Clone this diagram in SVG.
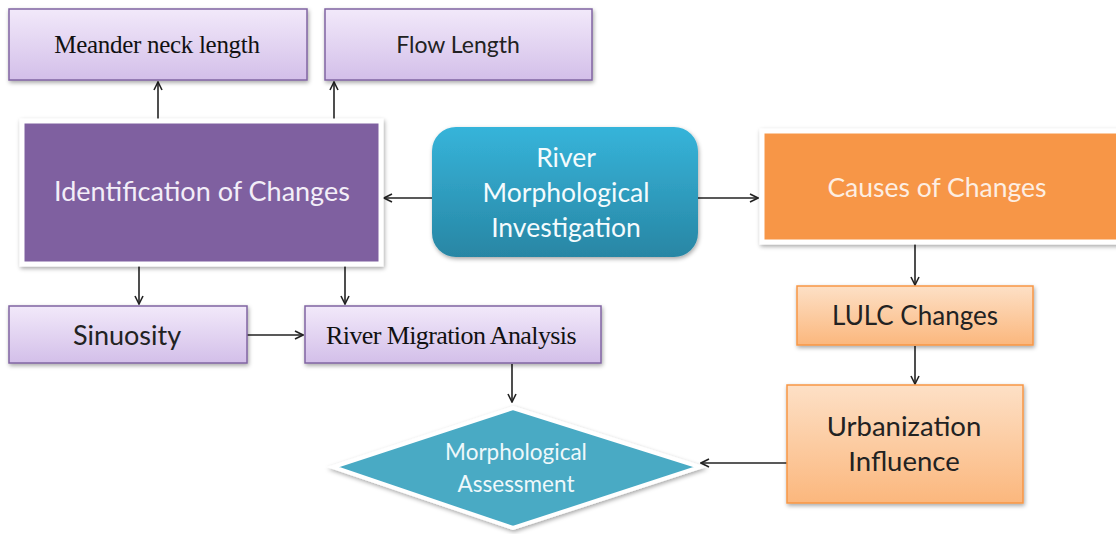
<svg xmlns="http://www.w3.org/2000/svg" width="1116" height="534" viewBox="0 0 1116 534">
<defs>
<linearGradient id="gPurple" x1="0" y1="0" x2="0" y2="1">
<stop offset="0" stop-color="#f2e9fa"/><stop offset="1" stop-color="#d3bfe9"/>
</linearGradient>
<linearGradient id="gOrange" x1="0" y1="0" x2="0" y2="1">
<stop offset="0" stop-color="#fde0c6"/><stop offset="1" stop-color="#fbb77d"/>
</linearGradient>
<linearGradient id="gTeal" x1="0" y1="0" x2="0" y2="1">
<stop offset="0" stop-color="#36b4da"/><stop offset="1" stop-color="#2886a4"/>
</linearGradient>
<filter id="sh" x="-10%" y="-10%" width="120%" height="130%">
<feDropShadow dx="1" dy="2" stdDeviation="2" flood-color="#000" flood-opacity="0.35"/>
</filter>
<marker id="arr" viewBox="0 0 10 10" refX="9" refY="5" markerWidth="10" markerHeight="10" markerUnits="userSpaceOnUse" orient="auto">
<path d="M1,1 L9,5 L1,9" fill="none" stroke="#222" stroke-width="1.6"/>
</marker>
</defs>
<style>
.lp{fill:url(#gPurple);stroke:#8064a2;stroke-width:1.5;filter:url(#sh)}
.lo{fill:url(#gOrange);stroke:#f79646;stroke-width:1.5;filter:url(#sh)}
.big{stroke:#fff;stroke-width:5;filter:url(#sh)}
.sans{font-family:Lato,"Open Sans","Liberation Sans",sans-serif;text-anchor:middle}
.serif{font-family:"Liberation Serif",serif;text-anchor:middle;fill:#111}
.dk{fill:#222}
.wt{fill:#f3eef8}
.cn{stroke:#222;stroke-width:1.6;fill:none;marker-end:url(#arr)}
</style>
<rect width="1116" height="534" fill="#fff"/>
<g id="connectors">
<line class="cn" x1="158" y1="120" x2="158" y2="82"/>
<line class="cn" x1="334" y1="120" x2="334" y2="82"/>
<line class="cn" x1="432" y1="198" x2="384" y2="198"/>
<line class="cn" x1="698" y1="198" x2="758" y2="198"/>
<line class="cn" x1="139" y1="266" x2="139" y2="304"/>
<line class="cn" x1="345" y1="266" x2="345" y2="304"/>
<line class="cn" x1="247" y1="335" x2="303" y2="335"/>
<line class="cn" x1="512" y1="364" x2="512" y2="402"/>
<line class="cn" x1="915" y1="244" x2="915" y2="285"/>
<line class="cn" x1="915" y1="346" x2="915" y2="384"/>
<line class="cn" x1="787" y1="463" x2="701" y2="463"/>
</g>
<g id="meander">
<rect class="lp" x="9" y="9" width="298" height="71"/>
<text class="serif" x="157" y="53" font-size="25" letter-spacing="-0.3">Meander neck length</text>
</g>
<g id="flow">
<rect class="lp" x="325" y="9" width="267" height="71"/>
<text class="sans dk" x="458" y="53" font-size="23">Flow Length</text>
</g>
<g id="identification">
<rect class="big" x="22" y="121" width="359" height="143" fill="#7f60a0"/>
<text class="sans wt" x="202" y="201" font-size="27">Identification of Changes</text>
</g>
<g id="river">
<rect x="432" y="127" width="266" height="130" rx="24" fill="url(#gTeal)" filter="url(#sh)"/>
<text class="sans" fill="#f4fbfd" x="566" y="167" font-size="26.5">River</text>
<text class="sans" fill="#f4fbfd" x="566" y="202" font-size="26.5">Morphological</text>
<text class="sans" fill="#f4fbfd" x="566" y="237" font-size="26.5">Investigation</text>
</g>
<g id="causes">
<rect class="big" x="762" y="131" width="360" height="111" fill="#f79646"/>
<text class="sans" fill="#fdeee2" x="937" y="197" font-size="26.5">Causes of Changes</text>
</g>
<g id="sinuosity">
<rect class="lp" x="9" y="306" width="238" height="57"/>
<text class="sans dk" x="127" y="345" font-size="27">Sinuosity</text>
</g>
<g id="migration">
<rect class="lp" x="305" y="306" width="296" height="57"/>
<text class="serif" x="451" y="344" font-size="26" letter-spacing="-0.6">River Migration Analysis</text>
</g>
<g id="lulc">
<rect class="lo" x="797" y="286" width="236" height="59"/>
<text class="sans dk" x="915" y="325" font-size="26">LULC Changes</text>
</g>
<g id="urban">
<rect class="lo" x="787" y="385" width="236" height="118"/>
<text class="sans dk" x="904" y="436" font-size="27.5">Urbanization</text>
<text class="sans dk" x="904" y="471" font-size="27.5">Influence</text>
</g>
<g id="assessment">
<polygon points="513,408 700,467 513,528 333,467" fill="#4aaac4" stroke="#fff" stroke-width="4" filter="url(#sh)"/>
<text class="sans" fill="#eef8fb" x="516" y="460" font-size="22.5">Morphological</text>
<text class="sans" fill="#eef8fb" x="516" y="492" font-size="22.5">Assessment</text>
</g>
</svg>
